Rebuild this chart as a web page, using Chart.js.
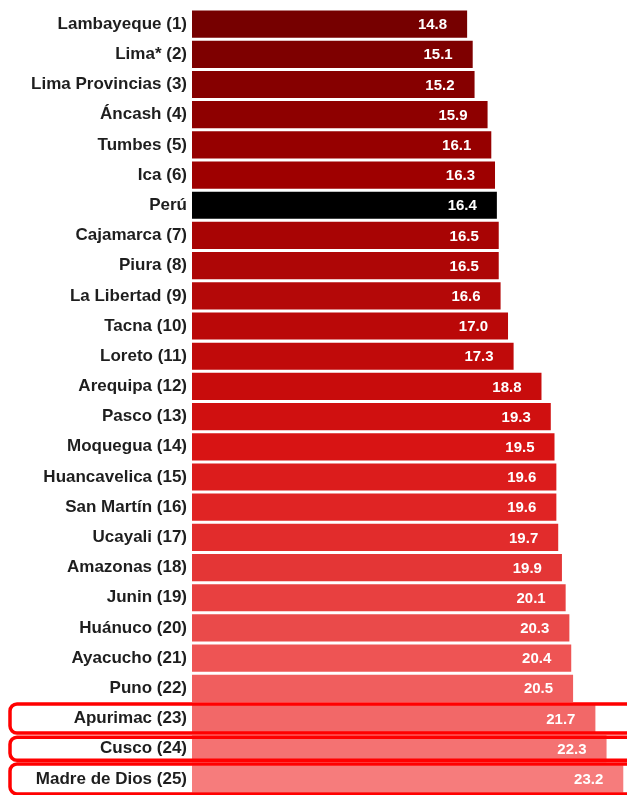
<!DOCTYPE html>
<html>
<head>
<meta charset="utf-8">
<script src="https://cdn.jsdelivr.net/npm/chart.js@4"></script>
<style>
  html, body { margin: 0; padding: 0; background: #fff; }
  #wrap { width: 627px; height: 795px; position: relative; }
</style>
</head>
<body>
<div id="wrap"><canvas id="grafico"></canvas></div>
<script>
// datos
const regiones = [
    "Lambayeque (1)", "Lima* (2)", "Lima Provincias (3)", "Áncash (4)", "Tumbes (5)",
    "Ica (6)", "Perú", "Cajamarca (7)", "Piura (8)", "La Libertad (9)", "Tacna (10)",
    "Loreto (11)", "Arequipa (12)", "Pasco (13)", "Moquegua (14)", "Huancavelica (15)",
    "San Martín (16)", "Ucayali (17)", "Amazonas (18)", "Junin (19)", "Huánuco (20)",
    "Ayacucho (21)", "Puno (22)", "Apurimac (23)", "Cusco (24)", "Madre de Dios (25)"
];
const valores = [
    14.8, 15.1, 15.2, 15.9, 16.1, 16.3, 16.4, 16.5, 16.5, 16.6, 17.0, 17.3, 18.8,
    19.3, 19.5, 19.6, 19.6, 19.7, 19.9, 20.1, 20.3, 20.4, 20.5, 21.7, 22.3, 23.2
];
// filas resaltadas con recuadro rojo
const resaltadas = ["Apurimac (23)", "Cusco (24)", "Madre de Dios (25)"];

// colores de las barras (de oscuro a claro)
const colores = [
    "#760000", "#7e0000", "#860000", "#8e0000", "#960000", "#9e0000", "#000000",
    "#a80404", "#ae0606", "#b40808", "#ba0808", "#c00a0a", "#c80c0c", "#d01010",
    "#d81414", "#dc1c1c", "#e02424", "#e22c2c", "#e43636", "#e84040", "#ea4a4a",
    "#ee5454", "#f05e5e", "#f26868", "#f47272", "#f67c7c"
];

// etiquetas de valor dentro de la barra
const etiquetasValor = {
    id: "etiquetasValor",
    afterDatasetsDraw(chart) {
        const ctx = chart.ctx;
        const meta = chart.getDatasetMeta(0);
        ctx.save();
        ctx.font = "bold 15px 'Liberation Sans', Arial, sans-serif";
        ctx.fillStyle = "#ffffff";
        ctx.textAlign = "right";
        ctx.textBaseline = "middle";
        meta.data.forEach((bar, i) => {
            ctx.fillText(valores[i].toFixed(1), bar.x - 20, bar.y + 1);
        });
        ctx.restore();
    }
};

// recuadros rojos sobre las ultimas regiones
const recuadros = {
    id: "recuadros",
    afterDraw(chart) {
        const ctx = chart.ctx;
        const y = chart.scales.y;
        const medias = [14.5, 11.5, 15];
        ctx.save();
        ctx.strokeStyle = "#ff0000";
        ctx.lineWidth = 3.5;
        resaltadas.forEach((nombre, k) => {
            const i = regiones.indexOf(nombre);
            const cy = y.getPixelForValue(i);
            const h = medias[k];
            ctx.beginPath();
            ctx.roundRect(10, cy - h, 650, h * 2, 7);
            ctx.stroke();
        });
        ctx.restore();
    }
};

new Chart(document.getElementById("grafico"), {
    type: "bar",
    data: {
        labels: regiones,
        datasets: [{
            data: valores,
            backgroundColor: colores,
            borderWidth: 0,
            barPercentage: 0.9,
            categoryPercentage: 1
        }]
    },
    options: {
        indexAxis: "y",
        responsive: true,
        maintainAspectRatio: false,
        animation: false,
        layout: { padding: { top: 9, bottom: 1, left: 0, right: 0 } },
        plugins: {
            legend: { display: false },
            tooltip: { enabled: false }
        },
        scales: {
            x: {
                display: false,
                min: 0,
                max: 23.4
            },
            y: {
                grid: { display: false, drawTicks: false },
                border: { display: false },
                ticks: {
                    color: "#1e1e1e",
                    padding: 5,
                    font: { family: "'Liberation Sans', Arial, sans-serif", size: 17, weight: "bold" }
                },
                afterFit: s => {
                    s.width = 192;
                    s.paddingTop = 0;
                    s.paddingBottom = 0;
                }
            }
        }
    },
    plugins: [etiquetasValor, recuadros]
});
</script>
</body>
</html>
